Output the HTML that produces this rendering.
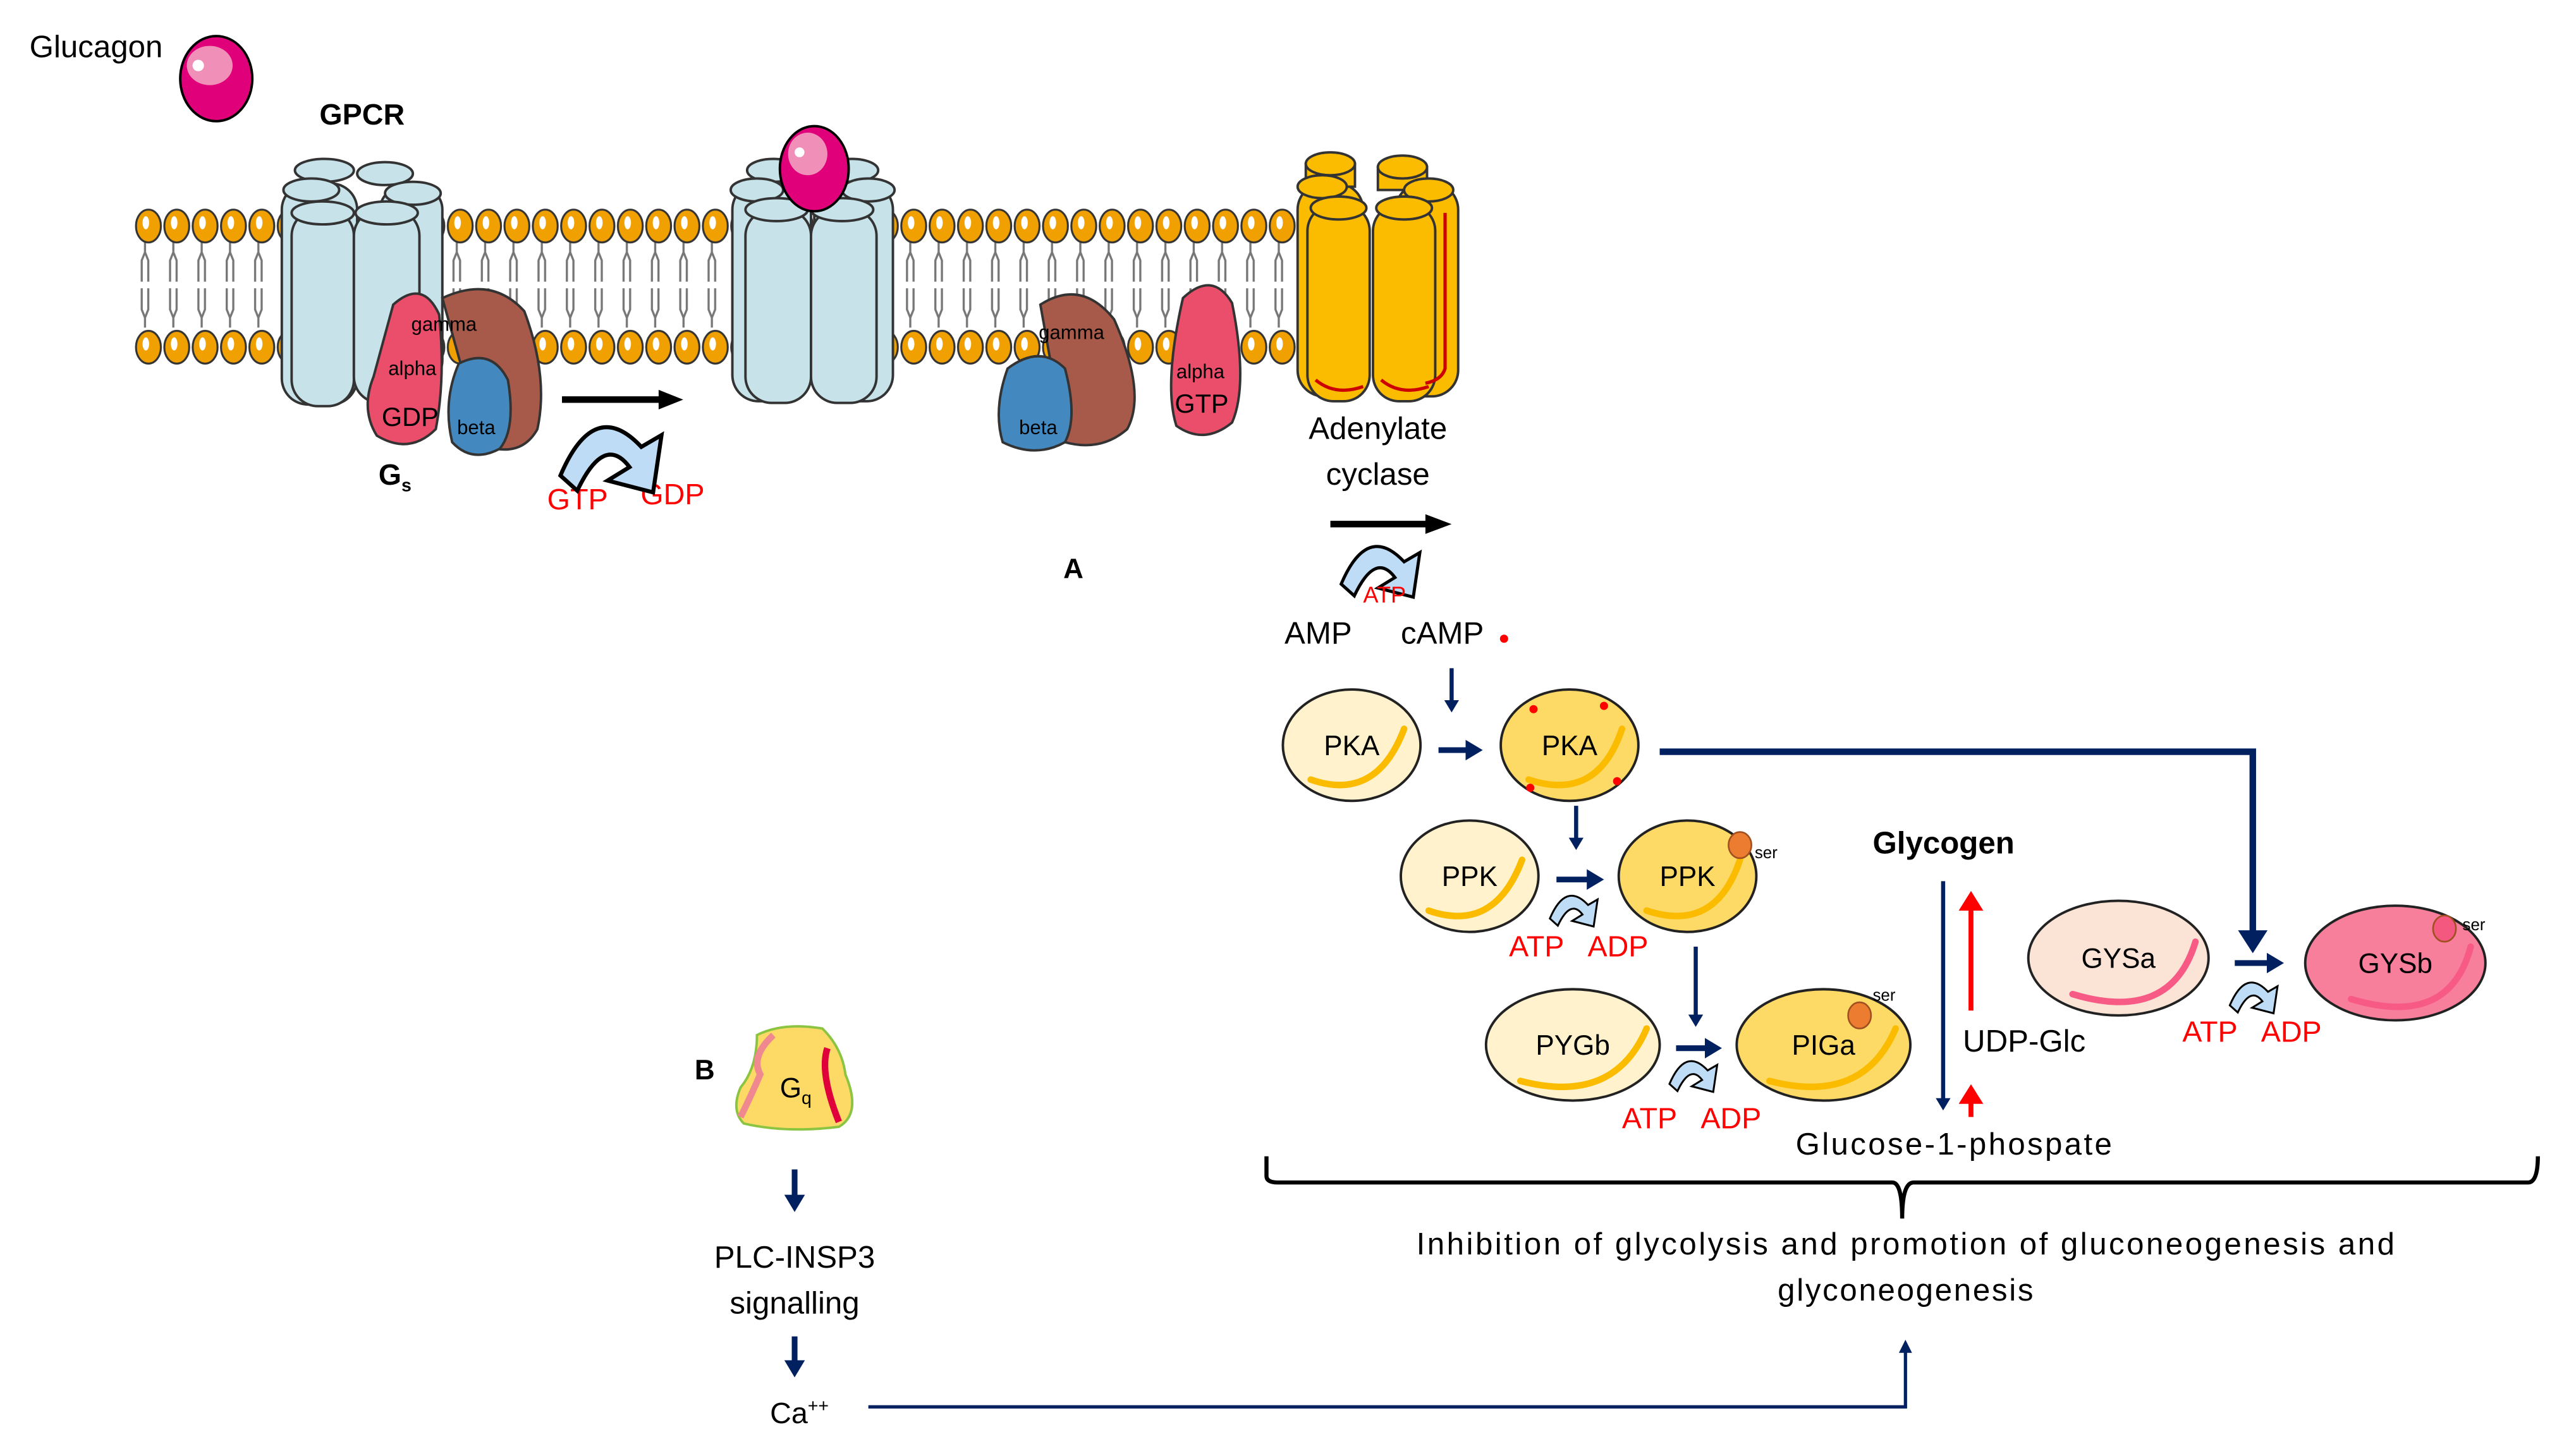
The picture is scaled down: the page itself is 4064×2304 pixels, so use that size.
<!DOCTYPE html>
<html><head><meta charset="utf-8"><style>html,body{margin:0;padding:0;background:#fff}svg{display:block}text{font-family:"Liberation Sans",sans-serif}</style></head>
<body>
<svg width="4064" height="2304" viewBox="0 0 1568 889" preserveAspectRatio="none" xmlns="http://www.w3.org/2000/svg">
<defs>
<pattern id="lip" x="82" y="124" width="17.3" height="100" patternUnits="userSpaceOnUse">
<g stroke="#777" stroke-width="1.3" fill="none">
<path d="M6.5 24 V30 M6.5 30 L4.5 35 V48 M6.5 30 L8.5 35 V48"/>
<path d="M6.5 76 V70 M6.5 70 L4.5 65 V52 M6.5 70 L8.5 65 V52"/>
</g>
<ellipse cx="8.6" cy="14" rx="7.6" ry="10" fill="#f0a000" stroke="#333" stroke-width="1.2"/>
<ellipse cx="7" cy="12" rx="2" ry="4" fill="#fff"/>
<ellipse cx="8.6" cy="88" rx="7.6" ry="10" fill="#f0a000" stroke="#333" stroke-width="1.2"/>
<ellipse cx="7" cy="86" rx="2" ry="4" fill="#fff"/>
</pattern>
<symbol id="ca" viewBox="0 0 70 50">
<path d="M2 37 Q22 -10 50 20 L62 13 L57 47 L30 40 L43 32 Q28 12 12 46 Z" fill="#bfdcf7" stroke="#000" stroke-width="2.4"/>
</symbol>
<marker id="na" markerWidth="3" markerHeight="3.6" refX="1" refY="1.8" orient="auto" markerUnits="strokeWidth"><path d="M0 0 L3 1.8 L0 3.6 Z" fill="#002060"/></marker>
<marker id="ra" markerWidth="4" markerHeight="5" refX="2" refY="2.5" orient="auto" markerUnits="strokeWidth"><path d="M0 0 L4 2.5 L0 5 Z" fill="#f00"/></marker>
</defs>
<rect width="1568" height="889" fill="#fff"/>
<rect x="82" y="124" width="710" height="100" fill="url(#lip)"/>

<g stroke="#333" stroke-width="1.5" fill="#c7e2e9">
<rect x="172" y="112" width="46" height="135" rx="16"/><rect x="232" y="114" width="38" height="120" rx="14"/>
<rect x="178" y="128" width="38" height="120" rx="16"/><rect x="216" y="128" width="40" height="118" rx="16"/>
<ellipse cx="198" cy="104" rx="18" ry="7"/><ellipse cx="235" cy="106" rx="17" ry="7"/>
<ellipse cx="190" cy="116" rx="17" ry="7"/><ellipse cx="252" cy="118" rx="17" ry="7"/>
<ellipse cx="197" cy="130" rx="19" ry="7"/><ellipse cx="236" cy="130" rx="19" ry="7"/>
</g>
<g stroke="#333" stroke-width="1.5" fill="#c7e2e9">
<rect x="447" y="112" width="48" height="133" rx="16"/><rect x="497" y="112" width="48" height="133" rx="16"/>
<rect x="455" y="128" width="40" height="118" rx="16"/><rect x="495" y="128" width="40" height="118" rx="16"/>
<ellipse cx="472" cy="104" rx="16" ry="7"/><ellipse cx="520" cy="104" rx="16" ry="7"/>
<ellipse cx="462" cy="116" rx="16" ry="7"/><ellipse cx="530" cy="116" rx="16" ry="7"/>
<ellipse cx="474" cy="128" rx="19" ry="7"/><ellipse cx="514" cy="128" rx="19" ry="7"/>
</g>
<g stroke="#333" stroke-width="1.5" fill="#fbbc00">
<rect x="792" y="112" width="40" height="130" rx="16"/><rect x="852" y="112" width="38" height="130" rx="16"/>
<rect x="798" y="125" width="38" height="120" rx="16"/><rect x="838" y="125" width="38" height="120" rx="16"/>
<rect x="797" y="100" width="30" height="14"/><rect x="841" y="102" width="30" height="14"/>
<ellipse cx="812" cy="100" rx="15" ry="7"/><ellipse cx="856" cy="102" rx="15" ry="7"/>
<ellipse cx="807" cy="114" rx="15" ry="7"/><ellipse cx="872" cy="116" rx="15" ry="7"/>
<ellipse cx="817" cy="127" rx="17" ry="7"/><ellipse cx="857" cy="127" rx="17" ry="7"/>
</g>
<path d="M803 232 Q815 242 832 236 M843 232 Q855 242 872 236 M882 130 V225 Q880 232 870 234" stroke="#c00" stroke-width="2" fill="none"/>

<path d="M270 182 Q300 168 320 190 Q335 230 328 262 Q318 280 295 272 Z" fill="#a85a4a" stroke="#333" stroke-width="1.5"/>
<path d="M240 186 Q258 170 268 192 Q272 230 266 262 Q250 278 230 266 Q220 250 228 230 Z" fill="#eb4e6a" stroke="#333" stroke-width="1.5"/>
<path d="M280 222 Q300 212 310 232 Q315 262 305 274 Q288 283 276 270 Q270 245 280 222 Z" fill="#4389c0" stroke="#333" stroke-width="1.5"/>
<path d="M635 186 Q660 170 680 195 Q700 240 688 262 Q672 276 650 270 Z" fill="#a85a4a" stroke="#333" stroke-width="1.5"/>
<path d="M615 225 Q635 210 650 225 Q658 255 650 270 Q632 280 612 270 Q606 250 615 225 Z" fill="#4389c0" stroke="#333" stroke-width="1.5"/>
<path d="M722 182 Q740 165 752 185 Q762 235 752 258 Q735 272 718 260 Q710 235 722 182 Z" fill="#eb4e6a" stroke="#333" stroke-width="1.5"/>

<ellipse cx="132" cy="48" rx="22" ry="26" fill="#e0007a" stroke="#000" stroke-width="1.5"/>
<ellipse cx="128" cy="40" rx="14" ry="12" fill="#f090b8"/><circle cx="121" cy="40" r="3.5" fill="#fff"/>
<ellipse cx="497" cy="103" rx="21" ry="26" fill="#e0007a" stroke="#000" stroke-width="1.5"/>
<ellipse cx="493" cy="94" rx="12" ry="13" fill="#f090b8"/><circle cx="488" cy="93" r="3" fill="#fff"/>

<text x="18" y="35" font-size="19">Glucagon</text>
<text x="195" y="76" font-size="18" font-weight="bold">GPCR</text>
<text x="251" y="202" font-size="12">gamma</text>
<text x="237" y="229" font-size="12">alpha</text>
<text x="233" y="260" font-size="16">GDP</text>
<text x="279" y="265" font-size="12">beta</text>
<text x="231" y="296" font-size="18" font-weight="bold">G<tspan font-size="11" dy="4">s</tspan></text>
<text x="634" y="207" font-size="12">gamma</text>
<text x="622" y="265" font-size="12">beta</text>
<text x="718" y="231" font-size="12">alpha</text>
<text x="717" y="252" font-size="16">GTP</text>
<text x="841" y="268" font-size="19" text-anchor="middle">Adenylate</text>
<text x="841" y="296" font-size="19" text-anchor="middle">cyclase</text>
<text x="334" y="311" font-size="18" fill="#f00">GTP</text>
<text x="391" y="308" font-size="18" fill="#f00">GDP</text>
<text x="649" y="353" font-size="17" font-weight="bold">A</text>

<path d="M343 244 H404" stroke="#000" stroke-width="4"/><path d="M402 238 L417 244 L402 250 Z"/>
<use href="#ca" x="340" y="252" width="72" height="52"/>
<path d="M812 320 H872" stroke="#000" stroke-width="4"/><path d="M870 314 L886 320 L870 326 Z"/>
<use href="#ca" x="810" y="327" width="70" height="40"/>
<text x="832" y="368" font-size="14" fill="#f00">ATP</text>
<text x="784" y="393" font-size="19">AMP</text>
<text x="855" y="393" font-size="19">cAMP</text>
<circle cx="918" cy="390" r="2.5" fill="#f00"/>

<g stroke="#002060" fill="none">
<path d="M886 408 V430" stroke-width="2.5" marker-end="url(#na)"/>
<path d="M878 458 H898" stroke-width="3.5" marker-end="url(#na)"/>
<path d="M962 492 V514" stroke-width="2.5" marker-end="url(#na)"/>
<path d="M950 537 H972" stroke-width="3.5" marker-end="url(#na)"/>
<path d="M1035 578 V622" stroke-width="2.5" marker-end="url(#na)"/>
<path d="M1023 640 H1044" stroke-width="3.5" marker-end="url(#na)"/>
<path d="M1013 459 H1375 V572" stroke-width="4"/>
<path d="M1364 588 H1387" stroke-width="3.5" marker-end="url(#na)"/>
<path d="M1186 538 V673" stroke-width="2.5" marker-end="url(#na)"/>
<path d="M485 714 V733" stroke-width="3.5" marker-end="url(#na)"/>
<path d="M485 816 V834" stroke-width="3.5" marker-end="url(#na)"/>
<path d="M530 859 H1163 V825" stroke-width="2"/>
</g>
<path d="M1366 568 L1384 568 L1375 582 Z" fill="#002060"/>
<path d="M1159 826 L1167 826 L1163 818 Z" fill="#002060"/>
<path d="M1203 617 V550" stroke="#f00" stroke-width="3" marker-end="url(#ra)"/>
<path d="M1203 682 V668" stroke="#f00" stroke-width="3" marker-end="url(#ra)"/>
<use href="#ca" x="945" y="542" width="34" height="26"/>
<use href="#ca" x="1018" y="643" width="34" height="26"/>
<use href="#ca" x="1360" y="595" width="34" height="26"/>

<g stroke="#222" stroke-width="1.5">
<ellipse cx="825" cy="455" rx="42" ry="34" fill="#fff2cc"/>
<ellipse cx="958" cy="455" rx="42" ry="34" fill="#fdd966"/>
<ellipse cx="897" cy="535" rx="42" ry="34" fill="#fff2cc"/>
<ellipse cx="1030" cy="535" rx="42" ry="34" fill="#fdd966"/>
<ellipse cx="960" cy="638" rx="53" ry="34" fill="#fff2cc"/>
<ellipse cx="1113" cy="638" rx="53" ry="34" fill="#fdd966"/>
<ellipse cx="1293" cy="585" rx="55" ry="35" fill="#fbe4d6"/>
<ellipse cx="1462" cy="588" rx="55" ry="35" fill="#f77f9b"/>
</g>
<g fill="none" stroke-width="4" stroke-linecap="round">
<path d="M800 476 Q840 490 857 445" stroke="#fbbc00"/>
<path d="M933 476 Q975 490 990 445" stroke="#fbbc00"/>
<path d="M872 556 Q912 570 929 525" stroke="#fbbc00"/>
<path d="M1005 556 Q1047 570 1062 525" stroke="#fbbc00"/>
<path d="M928 660 Q985 675 1005 628" stroke="#fbbc00"/>
<path d="M1080 660 Q1137 675 1157 628" stroke="#fbbc00"/>
<path d="M1265 607 Q1325 625 1340 575" stroke="#f85a86"/>
<path d="M1435 610 Q1495 628 1508 578" stroke="#f85a86"/>
</g>
<g fill="#f00"><circle cx="936" cy="433" r="2.5"/><circle cx="979" cy="431" r="2.5"/><circle cx="934" cy="481" r="2.5"/><circle cx="987" cy="477" r="2.5"/></g>
<ellipse cx="1062" cy="516" rx="7" ry="8" fill="#ec7c30" stroke="#a05020"/>
<ellipse cx="1135" cy="620" rx="7" ry="8" fill="#ec7c30" stroke="#a05020"/>
<ellipse cx="1492" cy="567" rx="7" ry="8" fill="#f4587f" stroke="#a05020"/>
<g font-size="17" text-anchor="middle">
<text x="825" y="461">PKA</text><text x="958" y="461">PKA</text>
<text x="897" y="541">PPK</text><text x="1030" y="541">PPK</text>
<text x="960" y="644">PYGb</text><text x="1113" y="644">PIGa</text>
<text x="1293" y="591">GYSa</text><text x="1462" y="594">GYSb</text>
</g>
<g font-size="10"><text x="1071" y="524">ser</text><text x="1143" y="611">ser</text><text x="1503" y="568">ser</text></g>
<g font-size="18" fill="#f00">
<text x="921" y="584">ATP</text><text x="969" y="584">ADP</text>
<text x="990" y="689">ATP</text><text x="1038" y="689">ADP</text>
<text x="1332" y="636">ATP</text><text x="1380" y="636">ADP</text>
</g>
<text x="1143" y="521" font-size="19" font-weight="bold">Glycogen</text>
<text x="1198" y="642" font-size="19">UDP-Glc</text>
<text x="1096" y="705" font-size="19" textLength="193">Glucose-1-phospate</text>
<path d="M773 706 V718 Q773 722 780 722 H1155 Q1161 722 1161 744 Q1161 722 1168 722 H1543 Q1549 722 1549 706" stroke="#000" stroke-width="2.5" fill="none"/>
<text x="1163" y="766" font-size="19" text-anchor="middle" textLength="597">Inhibition of glycolysis and promotion of gluconeogenesis and</text>
<text x="1163" y="794" font-size="19" text-anchor="middle" textLength="156">glyconeogenesis</text>

<text x="424" y="659" font-size="17" font-weight="bold">B</text>
<path d="M462 632 Q478 624 502 628 Q514 640 516 656 Q526 680 512 688 Q480 692 454 686 Q446 678 452 664 Q462 652 462 632 Z" fill="#fdd966" stroke="#8ac440" stroke-width="1.5"/>
<path d="M472 632 Q458 645 464 656 Q458 670 452 682" stroke="#f08890" stroke-width="4" fill="none"/>
<path d="M505 640 Q500 655 512 685" stroke="#e0003a" stroke-width="4" fill="none"/>
<text x="476" y="670" font-size="17">G<tspan font-size="11" dy="4">q</tspan></text>
<text x="485" y="774" font-size="19" text-anchor="middle">PLC-INSP3</text>
<text x="485" y="802" font-size="19" text-anchor="middle">signalling</text>
<text x="470" y="869" font-size="18">Ca<tspan font-size="11" dy="-7">++</tspan></text>
</svg>
</body></html>
